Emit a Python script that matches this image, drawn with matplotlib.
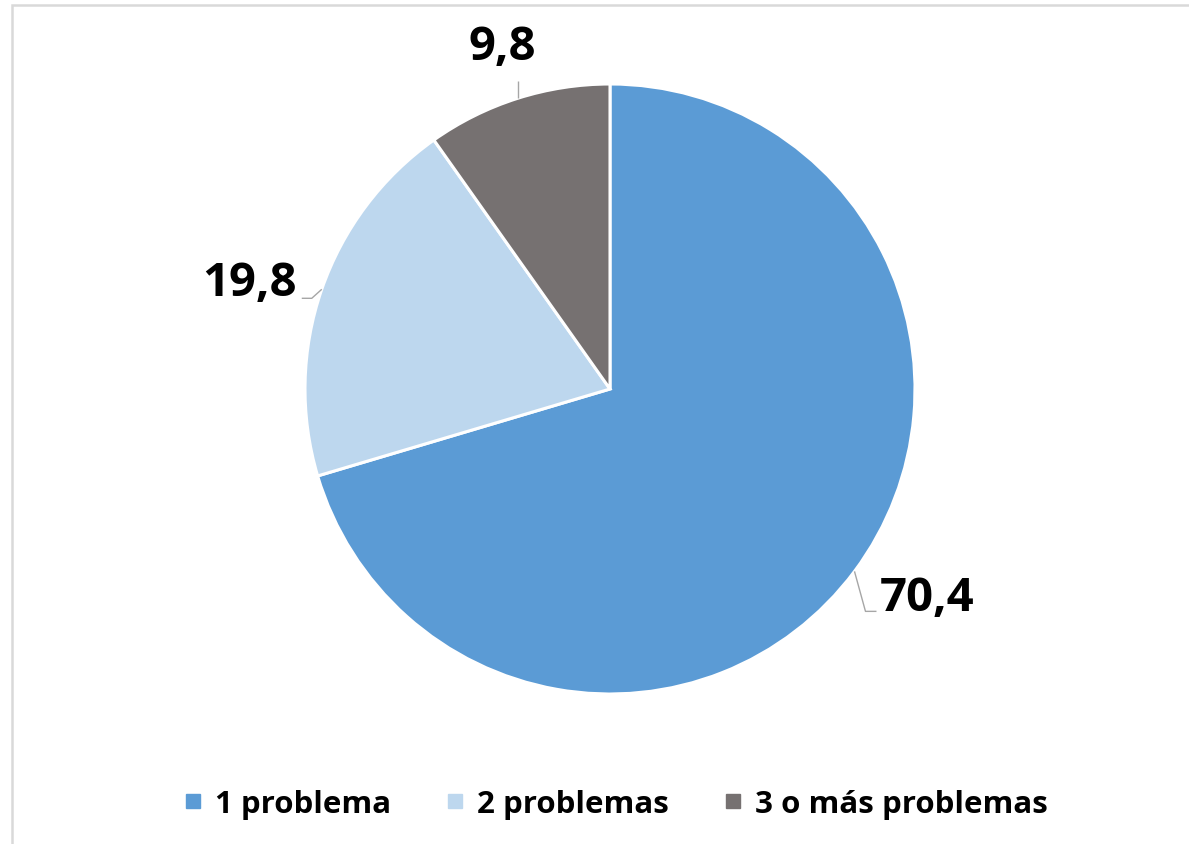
import numpy as np
import matplotlib
matplotlib.use("Agg")
import matplotlib.pyplot as plt
from matplotlib.patches import Rectangle
from matplotlib.lines import Line2D

# data
categories = ["1 problema", "2 problemas", "3 o más problemas"]
values = [70.4, 19.8, 9.8]
value_labels = ["70,4", "19,8", "9,8"]
colors = ["#5B9BD5", "#BDD7EE", "#767171"]

plt.rcParams['font.family'] = ['Open Sans', 'DejaVu Sans']

W, H = 1189, 845
fig = plt.figure(figsize=(W / 100, H / 100), dpi=100)
ax = fig.add_axes([0, 0, 1, 1])

# pie centre / radius in pixels
cx, cy, R = 610, 390, 305

wedges, _ = ax.pie(values, colors=colors, startangle=90, counterclock=False,
                   radius=1.0, center=(0, 0), frame=True,
                   wedgeprops=dict(edgecolor='white', linewidth=2.2))
ax.set_aspect('auto')
ax.set_xlim(-cx / R, (W - cx) / R)
ax.set_ylim((cy - H) / R, cy / R)
ax.axis('off')

# label layout (pixel offsets from the wedge edge point): elbow, end, text centre
layout = [
    dict(elbow=(11, 40), end=(22, 40), text=(73, 26)),
    dict(elbow=(-10, 9), end=(-20, 9), text=(-72, -7)),
    dict(elbow=(0, -17), end=(0, -17), text=(-15, -52)),
]

for w, lab, lay in zip(wedges, value_labels, layout):
    ang = np.deg2rad((w.theta1 + w.theta2) / 2)
    ex, ey = np.cos(ang), np.sin(ang)
    pts = [(ex, ey),
           (ex + lay['elbow'][0] / R, ey - lay['elbow'][1] / R),
           (ex + lay['end'][0] / R, ey - lay['end'][1] / R)]
    xs, ys = zip(*pts)
    ax.plot(xs, ys, color='#A6A6A6', lw=1.0, solid_capstyle='butt')
    ax.text(ex + lay['text'][0] / R, ey - lay['text'][1] / R, lab,
            ha='center', va='center', fontsize=34, fontweight='bold', color='black')

# legend
handles = [Line2D([0], [0], marker='s', linestyle='none', markersize=10.5,
                  markerfacecolor=c, markeredgecolor=c) for c in colors]
fig.legend(handles, categories, loc='center', bbox_to_anchor=(615 / W, 1 - 805 / H),
           ncol=3, frameon=False, handlelength=0.7, handletextpad=0.35,
           columnspacing=1.7, prop=dict(size=22.5, weight='bold'))

# chart border
fig.patches.append(Rectangle((12 / W, -0.1), 1.2, 1.1 - 6 / H, transform=fig.transFigure,
                             fill=False, edgecolor='#D9D9D9', linewidth=1.8))

fig.savefig("out.png", dpi=100)
